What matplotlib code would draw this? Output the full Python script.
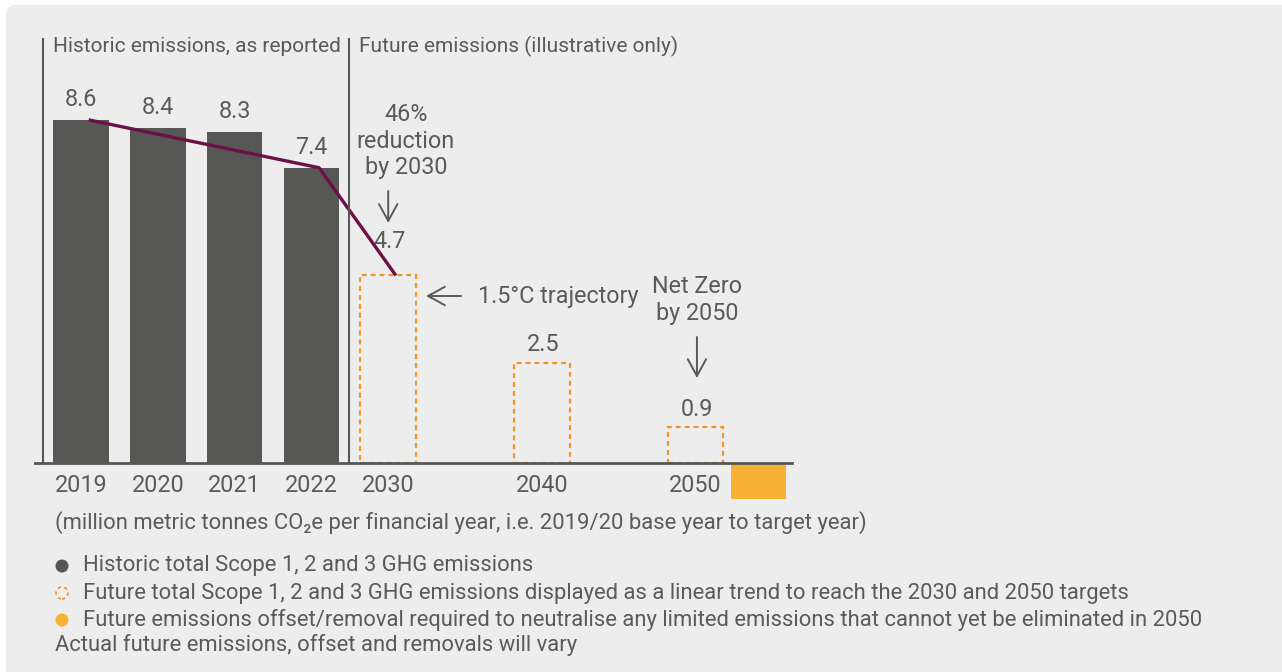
import matplotlib
matplotlib.use("Agg")
import matplotlib.pyplot as plt
from matplotlib.patches import FancyBboxPatch, Circle

FONT = ['Roboto', 'DejaVu Sans']
plt.rcParams['font.family'] = FONT

# ---- data ----
hist_years = ['2019', '2020', '2021', '2022']
hist_values = [8.6, 8.4, 8.3, 7.4]
future_years = ['2030', '2040', '2050']
future_values = [4.7, 2.5, 0.9]
offset_2050 = 0.9
traj_years = ['2019', '2022', '2030']
traj_values = [8.6, 7.4, 4.7]

GREY = '#575756'
TEXT = '#5a5a59'
PURPLE = '#6d1049'
ORANGE_D = '#f39325'
ORANGE_F = '#f7b133'
BG = '#ededed'

W, H = 1282, 672
fig = plt.figure(figsize=(W / 100, H / 100), dpi=100)
fig.patch.set_facecolor('white')
inch = fig.dpi_scale_trans

def px(x, y):
    return x / 100, (H - y) / 100

bg = FancyBboxPatch(px(6, 700), (W + 20) / 100, (700 - 5) / 100,
                    boxstyle='round,pad=0,rounding_size=0.1',
                    transform=inch, facecolor=BG, edgecolor='none', zorder=-10)
fig.patches.append(bg)

# axes: x pixel 35..792, baseline y=463, 39.9 px per unit
x0, x1 = 35, 792
ppu = 39.9
ytop = 11
ax = fig.add_axes([x0 / W, (H - 463) / H, (x1 - x0) / W, ytop * ppu / H])
ax.set_facecolor('none')
ax.set_zorder(5)
step = 76.8
ax.set_xlim((x0 - 81) / step, (x1 - 81) / step)
ax.set_ylim(0, ytop)
for s in ax.spines.values():
    s.set_visible(False)
ax.set_yticks([])

hist_pos = list(range(len(hist_values)))
fut_pos = [4, 6, 8]
bw = 55.5 / step

FS = 15.8
FS2 = 16.8

ax.bar(hist_pos, hist_values, width=bw, color=GREY, zorder=2)
ax.bar(fut_pos, future_values, width=bw, facecolor='none', edgecolor=ORANGE_D,
       linestyle=(0, (2.2, 1.8)), linewidth=1.6, zorder=2)
ax.bar([fut_pos[-1] + 0.82], [-offset_2050], width=bw, color=ORANGE_F,
       zorder=2, clip_on=False)
ax.axhline(0, color=GREY, lw=2.0, zorder=4, clip_on=False)

# value labels
for p, v in zip(hist_pos, hist_values):
    ax.text(p, v + 0.5, f'{v:.1f}', ha='center', va='center', fontsize=FS2, color=TEXT)
offs = [0.86, 0.46, 0.43]
for p, v, o in zip(fut_pos, future_values, offs):
    ax.text(p + 0.02, v + o, f'{v:.1f}', ha='center', va='center', fontsize=FS2, color=TEXT)

# trajectory line
pos_map = dict(zip(hist_years + future_years, hist_pos + fut_pos))
ax.plot([pos_map[y] + 0.1 for y in traj_years], traj_values, color=PURPLE, lw=2.4,
        zorder=3, solid_capstyle='butt')

# separators
vtop = (463 - 38) / ppu
ax.vlines([-0.495, 3.49], 0, vtop, color=GREY, lw=1.5, zorder=3)

# tick labels
ax.set_xticks(hist_pos + fut_pos)
ax.set_xticklabels(hist_years + future_years, fontsize=FS2, color=TEXT)
ax.tick_params(axis='x', length=0, pad=8)

# headers
fig.text(*px(53, 46), 'Historic emissions, as reported', transform=inch,
         fontsize=15, color=TEXT, va='center', ha='left')
fig.text(*px(359, 46), 'Future emissions (illustrative only)', transform=inch,
         fontsize=15, color=TEXT, va='center', ha='left')

# annotations
arrow_kw = dict(arrowstyle='->,head_length=0.55,head_width=0.3', color=TEXT, lw=1.4,
                mutation_scale=22, shrinkA=0, shrinkB=0)
fig.text(*px(406, 141), '46%\nreduction\nby 2030', transform=inch, fontsize=FS2,
         color=TEXT, ha='center', va='center', linespacing=1.2)
ax.annotate('', xy=(4.0, (463 - 223) / ppu), xytext=(4.0, (463 - 191) / ppu),
            arrowprops=arrow_kw)
ax.annotate('', xy=((426 - 81) / step, (463 - 296) / ppu),
            xytext=((461 - 81) / step, (463 - 296) / ppu),
            arrowprops=arrow_kw)
fig.text(*px(478, 297), '1.5°C trajectory', transform=inch, fontsize=FS2,
         color=TEXT, ha='left', va='center')
fig.text(*px(697, 300), 'Net Zero\nby 2050', transform=inch, fontsize=FS2,
         color=TEXT, ha='center', va='center', linespacing=1.2)
ax.annotate('', xy=(8.02, (463 - 378) / ppu), xytext=(8.02, (463 - 337) / ppu),
            arrowprops=arrow_kw)

# footnote and legend
fig.text(*px(55, 523), '(million metric tonnes CO₂e per financial year, i.e. 2019/20 base year to target year)',
         transform=inch, fontsize=FS, color=TEXT, ha='left', va='center')
legend_items = [
    'Historic total Scope 1, 2 and 3 GHG emissions',
    'Future total Scope 1, 2 and 3 GHG emissions displayed as a linear trend to reach the 2030 and 2050 targets',
    'Future emissions offset/removal required to neutralise any limited emissions that cannot yet be eliminated in 2050',
]
ys = [566, 593, 620]
fig.patches.append(Circle(px(62, ys[0]), 0.065, transform=inch, facecolor=GREY, edgecolor='none'))
fig.patches.append(Circle(px(62, ys[1]), 0.06, transform=inch, facecolor='none',
                          edgecolor=ORANGE_D, lw=1.2, linestyle=(0, (2, 2))))
fig.patches.append(Circle(px(62, ys[2]), 0.065, transform=inch, facecolor=ORANGE_F, edgecolor='none'))
for y, t in zip(ys, legend_items):
    fig.text(*px(83, y), t, transform=inch, fontsize=FS, color=TEXT, ha='left', va='center')
fig.text(*px(55, 645), 'Actual future emissions, offset and removals will vary',
         transform=inch, fontsize=FS, color=TEXT, ha='left', va='center')

fig.savefig('out.png', dpi=100, facecolor=fig.get_facecolor())
